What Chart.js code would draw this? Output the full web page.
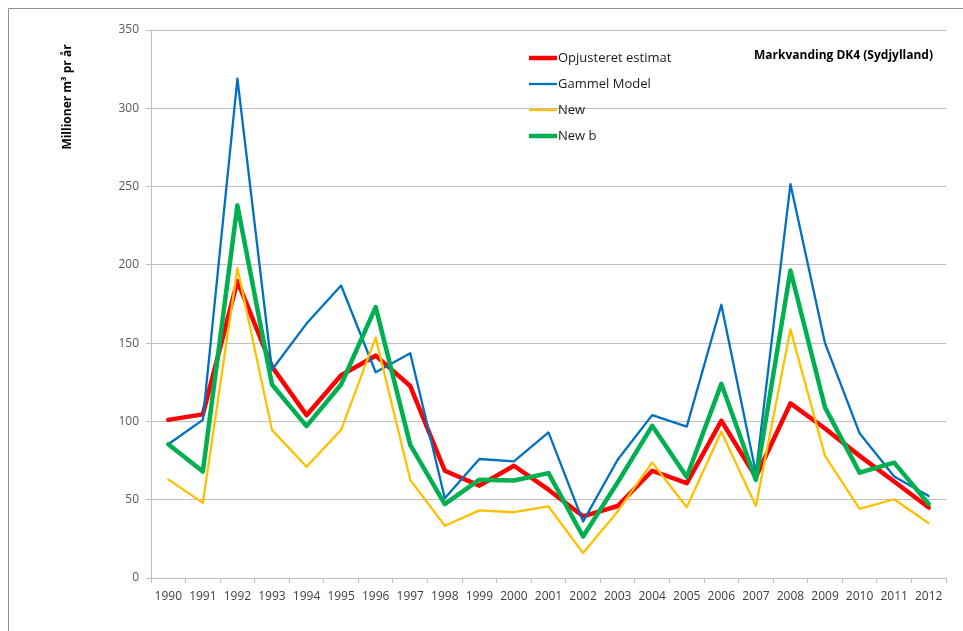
<!DOCTYPE html>
<html>
<head>
<meta charset="utf-8">
<script src="https://cdn.jsdelivr.net/npm/chart.js@4"></script>
<style>
  html, body { margin: 0; padding: 0; background: #fff; }
  #wrap { position: relative; width: 963px; height: 631px; }
</style>
</head>
<body>
<div id="wrap"><canvas id="grafico" width="963" height="631"></canvas></div>
<script>
  const years = ['1990','1991','1992','1993','1994','1995','1996','1997','1998','1999','2000',
    '2001','2002','2003','2004','2005','2006','2007','2008','2009','2010','2011','2012'];

  const opjusteret = [101, 104.5, 189.6, 135, 104, 129.5, 142, 122.6, 68.5, 59, 71.7,
    56.4, 39.4, 46, 68.5, 60.6, 100.4, 64.5, 111.5, 95.5, 78, 61.6, 45];
  const gammelModel = [85.4, 101, 319, 133, 162.5, 186.8, 131.4, 143.5, 51, 76, 74.5,
    93, 36, 75.5, 104, 96.7, 174.5, 67, 251.6, 150, 92.4, 64.8, 52.4];
  const newSerie = [63, 48, 198, 94.6, 71, 94.6, 153.5, 62.7, 33.4, 43.2, 42,
    45.7, 16, 42.5, 73.8, 45.2, 93.4, 46, 158.8, 78, 44.2, 50.3, 35];
  const newB = [85.4, 68, 238, 123.6, 97, 123.6, 173, 85, 47.2, 62.8, 62.3,
    67, 26.5, 61, 97.2, 64.5, 124, 62.6, 196.4, 109, 67.3, 73.7, 47.3];

  const yTicks = [0, 50, 100, 150, 200, 250, 300, 350];

  const chartTitle = 'Markvanding DK4 (Sydjylland)';
  const yTitle = 'Millioner m\u00B3 pr \u00E5r';

  const series = [
    { label: 'Opjusteret estimat', data: opjusteret, color: '#ff0000', width: 4.5, order: 3 },
    { label: 'Gammel Model', data: gammelModel, color: '#0070c0', width: 2.3, order: 2 },
    { label: 'New', data: newSerie, color: '#ffc000', width: 2.3, order: 1 },
    { label: 'New b', data: newB, color: '#00b050', width: 4.5, order: 0 }
  ];

  // frame, legend, title and y-axis title
  const extras = {
    id: 'extras',
    beforeDraw(chart) {
      const ctx = chart.ctx;
      ctx.save();
      ctx.strokeStyle = '#8c8c8c';
      ctx.lineWidth = 1;
      ctx.beginPath();
      ctx.moveTo(8.5, 631);
      ctx.lineTo(8.5, 8.5);
      ctx.lineTo(963, 8.5);
      ctx.stroke();
      ctx.restore();
    },
    afterDatasetsDraw(chart) {
      const ctx = chart.ctx;
      ctx.save();
      series.forEach((s, i) => {
        const y = 58 + i * 26;
        ctx.strokeStyle = s.color;
        ctx.lineWidth = s.width;
        ctx.beginPath();
        ctx.moveTo(529, y);
        ctx.lineTo(557, y);
        ctx.stroke();
        ctx.fillStyle = '#1a1a1a';
        ctx.font = '13px "Open Sans"';
        ctx.textAlign = 'left';
        ctx.textBaseline = 'middle';
        ctx.fillText(s.label, 558, y);
      });

      ctx.font = 'bold 12px "Open Sans"';
      ctx.fillStyle = '#000';
      ctx.textAlign = 'right';
      ctx.textBaseline = 'middle';
      ctx.fillText(chartTitle, 933, 56);

      ctx.translate(68, 97);
      ctx.rotate(-Math.PI / 2);
      ctx.textAlign = 'center';
      ctx.font = 'bold 12px "Open Sans"';
      ctx.fillText(yTitle, 0, 0);
      ctx.restore();
    }
  };

  const graph = document.getElementById('grafico');
  const myChart = new Chart(graph, {
    type: 'line',
    data: {
      labels: years,
      datasets: series.map((s) => ({
        label: s.label,
        data: s.data,
        borderColor: s.color,
        backgroundColor: s.color,
        borderWidth: s.width,
        pointRadius: 0,
        tension: 0,
        fill: false,
        borderJoinStyle: 'round',
        borderCapStyle: 'round',
        order: s.order
      }))
    },
    options: {
      responsive: false,
      animation: false,
      layout: { padding: { left: 0, right: 17, top: 30, bottom: 0 } },
      plugins: { legend: { display: false }, tooltip: { enabled: false } },
      scales: {
        x: {
          offset: true,
          grid: { offset: true, drawOnChartArea: false, color: '#bfbfbf', tickLength: 5 },
          border: { color: '#bfbfbf' },
          ticks: { color: '#404040', font: { family: 'Open Sans', size: 12 }, maxRotation: 0, padding: 6 },
          afterFit: (s) => { s.height = 53; }
        },
        y: {
          min: 0,
          max: 350,
          afterBuildTicks: (s) => { s.ticks = yTicks.map((v) => ({ value: v })); },
          grid: { color: '#c0c0c0', tickLength: 5 },
          border: { color: '#bfbfbf' },
          ticks: { color: '#595959', font: { family: 'Open Sans', size: 12 }, padding: 7 },
          afterFit: (s) => { s.width = 151; }
        }
      }
    },
    plugins: [extras]
  });
</script>
</body>
</html>
